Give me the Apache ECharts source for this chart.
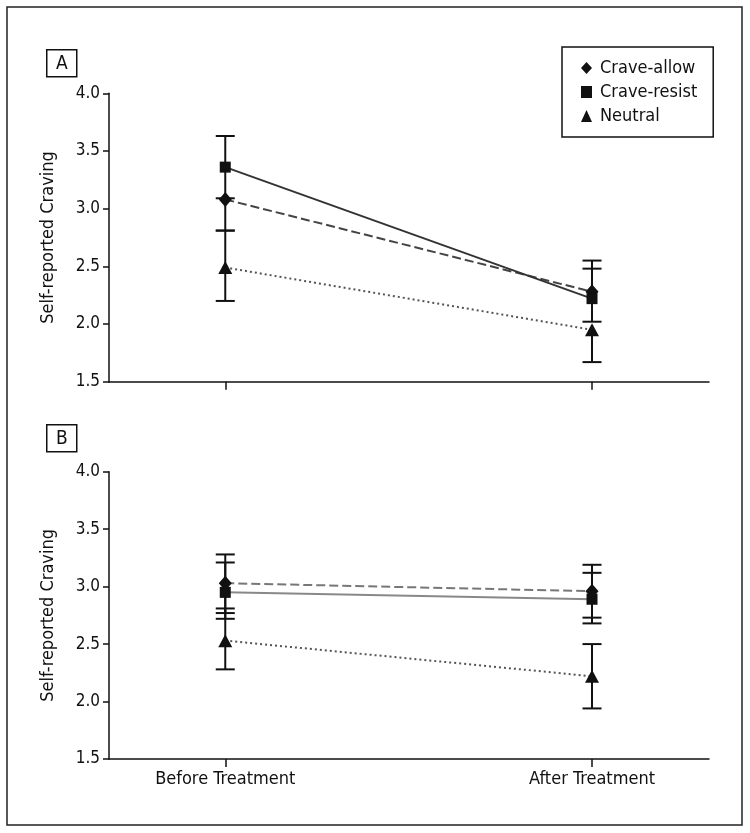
<!DOCTYPE html>
<html>
<head>
<meta charset="utf-8">
<script src="https://cdn.jsdelivr.net/npm/echarts@6/dist/echarts.min.js"></script>
<style>
  html, body { margin: 0; padding: 0; background: #fff; }
  #chart { width: 750px; height: 833px; }
</style>
</head>
<body>
<div id="chart"></div>
<script>
// categories and tick labels
var categories = ['Before Treatment', 'After Treatment'];
var seriesNames = ['Crave-allow', 'Crave-resist', 'Neutral'];
var yTicks = [1.5, 2.0, 2.5, 3.0, 3.5, 4.0];

// panel A (means, lower and upper error bar ends; null = not visible)
var allowA = [3.08, 2.28];
var allowALow = [2.81, 2.02];
var allowAHigh = [null, 2.55];
var resistA = [3.36, 2.22];
var resistALow = [3.09, null];
var resistAHigh = [3.63, 2.48];
var neutralA = [2.49, 1.95];
var neutralALow = [2.20, 1.67];
var neutralAHigh = [2.81, null];

// panel B
var allowB = [3.03, 2.96];
var allowBLow = [2.77, 2.73];
var allowBHigh = [3.28, 3.19];
var resistB = [2.95, 2.89];
var resistBLow = [2.72, 2.68];
var resistBHigh = [3.21, 3.12];
var neutralB = [2.53, 2.22];
var neutralBLow = [2.28, 1.94];
var neutralBHigh = [2.81, 2.50];

var FONT = '"Liberation Sans Narrow", "DejaVu Sans Condensed", Arial, sans-serif';

function pts(vals) {
    return vals.map(function (v, i) { return [i, v]; });
}

function errRender(lows, highs) {
    return function (params, api) {
        var i = params.dataIndex;
        var x = api.value(0);
        var c = api.coord([x, api.value(1)]);
        var kids = [];
        var st = { stroke: '#111', lineWidth: 2 };
        [lows[i], highs[i]].forEach(function (e) {
            if (e === null) return;
            var p = api.coord([x, e]);
            kids.push({ type: 'line', shape: { x1: c[0], y1: c[1], x2: p[0], y2: p[1] }, style: st });
            kids.push({ type: 'line', shape: { x1: p[0] - 9.5, y1: p[1], x2: p[0] + 9.5, y2: p[1] }, style: st });
        });
        return { type: 'group', children: kids };
    };
}

var symbols = ['diamond', 'rect', 'triangle'];
var symbolSizes = [[13, 15], 11, [14, 13]];

function panelSeries(idx, vals, lows, highs, lineColors) {
    var out = [];
    var dashes = [[9, 4], 'solid', [2, 3]];
    for (var s = 0; s < 3; s++) {
        out.push({
            name: seriesNames[s],
            type: 'line',
            xAxisIndex: idx, yAxisIndex: idx,
            data: pts(vals[s]),
            symbol: symbols[s],
            symbolSize: symbolSizes[s],
            itemStyle: { color: '#111' },
            lineStyle: { color: lineColors[s], width: 2, type: dashes[s] },
            z: 3
        });
    }
    for (var s2 = 0; s2 < 3; s2++) {
        out.push({
            name: seriesNames[s2],
            type: 'custom',
            xAxisIndex: idx, yAxisIndex: idx,
            renderItem: errRender(lows[s2], highs[s2]),
            data: pts(vals[s2]),
            itemStyle: { color: '#111' },
            z: 2,
            silent: true
        });
    }
    return out;
}

function xAxisOpt(idx, showLabels) {
    return {
        type: 'value', gridIndex: idx, min: -0.317, max: 1.319,
        splitLine: { show: false },
        axisLine: { onZero: false, lineStyle: { color: '#111', width: 1.5 } },
        axisTick: { show: true, customValues: [0, 1], length: 8, lineStyle: { color: '#111', width: 1.5 } },
        axisLabel: {
            show: showLabels, customValues: [0, 1], margin: 11,
            color: '#111', fontFamily: FONT, fontSize: 18,
            formatter: function (v) { return categories[Math.round(v)]; }
        }
    };
}

function yAxisOpt(idx) {
    return {
        type: 'value', gridIndex: idx, min: 1.5, max: 4.0, interval: 0.5,
        name: 'Self-reported Craving', nameLocation: 'middle', nameRotate: 90, nameGap: 52,
        nameTextStyle: { color: '#111', fontFamily: FONT, fontSize: 18 },
        splitLine: { show: false },
        axisLine: { show: true, onZero: false, lineStyle: { color: '#111', width: 1.5 } },
        axisTick: { show: true, length: 6, lineStyle: { color: '#111', width: 1.5 } },
        axisLabel: {
            color: '#111', fontFamily: FONT, fontSize: 17, margin: 9,
            formatter: function (v) { return v.toFixed(1); }
        }
    };
}

function panelLabel(letter, x, y) {
    return {
        type: 'group', left: x, top: y,
        children: [
            { type: 'rect', shape: { x: 0, y: 0, width: 30, height: 27 },
              style: { fill: '#fff', stroke: '#111', lineWidth: 1.5 } },
            { type: 'text', x: 15, y: 14,
              style: { text: letter, fontFamily: FONT, fontSize: 19, fill: '#111', align: 'center', verticalAlign: 'middle' } }
        ]
    };
}

var chart = echarts.init(document.getElementById('chart'));
chart.setOption({
    animation: false,
    backgroundColor: '#fff',
    grid: [
        { left: 109, right: 41, top: 93.3, height: 288.4 },
        { left: 109, right: 41, top: 471.7, height: 287.3 }
    ],
    xAxis: [xAxisOpt(0, false), xAxisOpt(1, true)],
    yAxis: [yAxisOpt(0), yAxisOpt(1)],
    legend: {
        orient: 'vertical', left: 562, top: 47,
        padding: [12, 16, 12, 19],
        itemGap: 6, itemWidth: 11, itemHeight: 12,
        borderColor: '#111', borderWidth: 1.5,
        itemStyle: { color: '#111' },
        textStyle: { color: '#111', fontFamily: FONT, fontSize: 18, padding: [0, 0, 0, 3] },
        data: seriesNames.map(function (n, i) { return { name: n, icon: symbols[i] }; })
    },
    graphic: [
        { type: 'rect', shape: { x: 7, y: 7, width: 735, height: 818 },
          style: { fill: 'none', stroke: '#222', lineWidth: 1.5 } },
        panelLabel('A', 46, 49),
        panelLabel('B', 46, 424)
    ],
    series: [].concat(
        panelSeries(0, [allowA, resistA, neutralA],
            [allowALow, resistALow, neutralALow],
            [allowAHigh, resistAHigh, neutralAHigh],
            ['#444', '#333', '#555']),
        panelSeries(1, [allowB, resistB, neutralB],
            [allowBLow, resistBLow, neutralBLow],
            [allowBHigh, resistBHigh, neutralBHigh],
            ['#777', '#888', '#555'])
    )
});
</script>
</body>
</html>
